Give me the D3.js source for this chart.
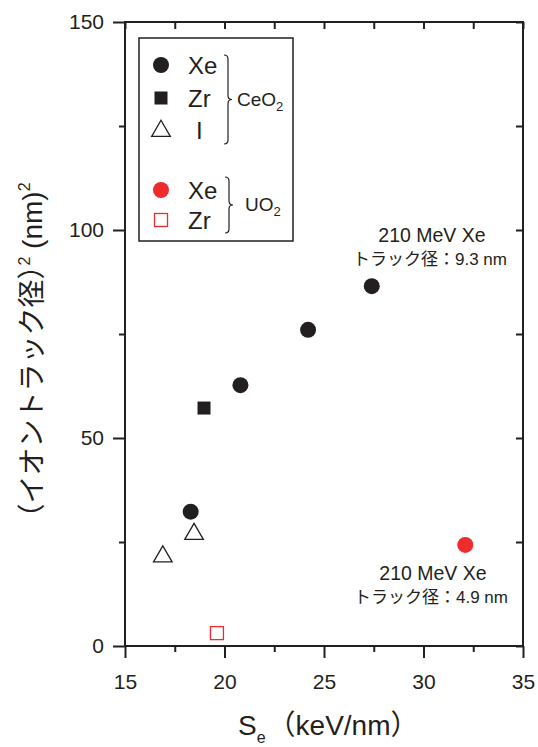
<!DOCTYPE html>
<html>
<head>
<meta charset="utf-8">
<script src="https://cdn.jsdelivr.net/npm/d3@7"></script>
<style>
  body { margin: 0; background: #fff; }
  svg text { font-family: "Liberation Sans", Arial, "Noto Sans CJK JP", sans-serif; fill: #231f20; }
  .jp { font-family: "Liberation Sans", "Noto Sans CJK JP", sans-serif; }
</style>
</head>
<body>
<svg id="chart" width="538" height="747"></svg>
<script>
// data
var ceXe = [[18.3, 32.3], [20.8, 62.7], [24.2, 76], [27.4, 86.5]];
var ceZr = [[18.97, 57.2]];
var ceI = [[16.9, 21.5], [18.47, 26.9]];
var uoXe = [[32.1, 24.3]];
var uoZr = [[19.62, 3.1]];
var xTicks = [15, 20, 25, 30, 35];
var yTicks = [0, 50, 100, 150];

var ink = '#231f20', red = '#ee2b2e';
var svg = d3.select('#chart');
var pl = 125, pr = 523, pt = 22, pb = 646;

var x = d3.scaleLinear().domain([15, 35]).range([pl, pr]);
var y = d3.scaleLinear().domain([0, 150]).range([pb, pt]);

// axes: outward ticks on bottom/left, inward on top/right
function minor(domain, step) { return d3.range(domain[0] + step / 2, domain[1], step); }
var g = svg.append('g');
g.append('g').attr('transform', 'translate(0,' + pb + ')')
  .call(d3.axisBottom(x).tickValues(minor([15, 35], 5)).tickSize(6).tickFormat(''));
g.append('g').attr('class', 'lab').attr('transform', 'translate(0,' + pb + ')')
  .call(d3.axisBottom(x).tickValues(xTicks).tickSize(12).tickPadding(16).tickFormat(d3.format('d')));
g.append('g').attr('transform', 'translate(' + pl + ',0)')
  .call(d3.axisLeft(y).tickValues(minor([0, 150], 50)).tickSize(6).tickFormat(''));
g.append('g').attr('class', 'lab').attr('transform', 'translate(' + pl + ',0)')
  .call(d3.axisLeft(y).tickValues(yTicks).tickSize(12).tickPadding(9).tickFormat(d3.format('d')));
g.append('g').attr('transform', 'translate(0,' + pt + ')')
  .call(d3.axisBottom(x).tickValues(xTicks.concat(minor([15, 35], 5))).tickSize(7).tickFormat(''));
g.append('g').attr('transform', 'translate(' + pr + ',0)')
  .call(d3.axisLeft(y).tickValues(yTicks.concat(minor([0, 150], 50))).tickSize(7).tickFormat(''));
g.selectAll('.domain').remove();
g.selectAll('line').attr('stroke', ink).attr('stroke-width', 2);
g.selectAll('text').style('font-size', '21px').attr('fill', ink).attr('font-family', null);

svg.append('rect')
  .attr('x', pl).attr('y', pt).attr('width', pr - pl).attr('height', pb - pt)
  .attr('fill', 'none').attr('stroke', ink).attr('stroke-width', 2);

// markers
function circles(data, fill) {
  svg.append('g').selectAll('circle').data(data).join('circle')
    .attr('cx', function(d) { return x(d[0]); })
    .attr('cy', function(d) { return y(d[1]); })
    .attr('r', 8).attr('fill', fill);
}
circles(ceXe, ink);
circles(uoXe, red);
svg.append('g').selectAll('rect').data(ceZr).join('rect')
  .attr('x', function(d) { return x(d[0]) - 6.5; })
  .attr('y', function(d) { return y(d[1]) - 6.5; })
  .attr('width', 13).attr('height', 13).attr('fill', ink);
svg.append('g').selectAll('rect').data(uoZr).join('rect')
  .attr('x', function(d) { return x(d[0]) - 6.5; })
  .attr('y', function(d) { return y(d[1]) - 6.5; })
  .attr('width', 13).attr('height', 13).attr('fill', 'none').attr('stroke', red).attr('stroke-width', 1.3);
var tri = d3.symbol().type(d3.symbolTriangle).size(150);
svg.append('g').selectAll('path').data(ceI).join('path')
  .attr('transform', function(d) { return 'translate(' + x(d[0]) + ',' + y(d[1]) + ')'; })
  .attr('d', tri).attr('fill', 'none').attr('stroke', ink).attr('stroke-width', 1.3);

// legend
var lg = svg.append('g');
lg.append('rect').attr('x', 139).attr('y', 38).attr('width', 154).attr('height', 203)
  .attr('fill', '#fff').attr('stroke', ink).attr('stroke-width', 1.5);
var rows = [
  { y: 65, label: 'Xe', kind: 'circle', color: ink },
  { y: 98, label: 'Zr', kind: 'square', color: ink },
  { y: 130, label: 'I', kind: 'triangle', color: ink },
  { y: 190, label: 'Xe', kind: 'circle', color: red },
  { y: 220, label: 'Zr', kind: 'opensquare', color: red }
];
rows.forEach(function(r) {
  if (r.kind === 'circle') lg.append('circle').attr('cx', 161).attr('cy', r.y).attr('r', 8).attr('fill', r.color);
  if (r.kind === 'square') lg.append('rect').attr('x', 154.5).attr('y', r.y - 6.5).attr('width', 13).attr('height', 13).attr('fill', r.color);
  if (r.kind === 'opensquare') lg.append('rect').attr('x', 154.5).attr('y', r.y - 6.5).attr('width', 13).attr('height', 13)
    .attr('fill', 'none').attr('stroke', r.color).attr('stroke-width', 1.3);
  if (r.kind === 'triangle') lg.append('path').attr('transform', 'translate(161,' + (r.y + 1) + ')').attr('d', tri)
    .attr('fill', 'none').attr('stroke', r.color).attr('stroke-width', 1.3);
  lg.append('text').attr('x', r.kind === 'triangle' ? 196 : 188).attr('y', r.y + 8.5)
    .style('font-size', '24px').text(r.label);
});

// braces
function brace(bx, y0, y1, w) {
  var m = (y0 + y1) / 2;
  return 'M' + bx + ',' + y0 + ' q' + w + ',0 ' + w + ',' + w +
    ' L' + (bx + w) + ',' + (m - w) + ' q0,' + w + ' ' + w + ',' + w +
    ' q-' + w + ',0 -' + w + ',' + w +
    ' L' + (bx + w) + ',' + (y1 - w) + ' q0,' + w + ' -' + w + ',' + w;
}
lg.append('path').attr('d', brace(224, 55, 144, 4)).attr('fill', 'none').attr('stroke', ink).attr('stroke-width', 1.2);
lg.append('path').attr('d', brace(225, 177, 233, 4)).attr('fill', 'none').attr('stroke', ink).attr('stroke-width', 1.2);
var ce = lg.append('text').attr('x', 237).attr('y', 106).style('font-size', '19px');
ce.append('tspan').text('CeO');
ce.append('tspan').attr('dy', 5).style('font-size', '13px').text('2');
var uo = lg.append('text').attr('x', 245).attr('y', 211).style('font-size', '19px');
uo.append('tspan').text('UO');
uo.append('tspan').attr('dy', 5).style('font-size', '13px').text('2');

// annotations
function note(cx, yb, line2) {
  svg.append('text').attr('x', cx).attr('y', yb).attr('text-anchor', 'middle').style('font-size', '19.5px').text('210 MeV Xe');
  svg.append('text').attr('class', 'jp').attr('x', cx - 2).attr('y', yb + 23).attr('text-anchor', 'middle').style('font-size', '17px').text(line2);
}
note(432, 242, 'トラック径：9.3 nm');
note(433, 580, 'トラック径：4.9 nm');

// axis titles
var xt = svg.append('text').attr('class', 'jp').attr('x', 238).attr('y', 735).style('font-size', '28px');
xt.append('tspan').text('S');
xt.append('tspan').attr('dy', 8).style('font-size', '16px').text('e');
xt.append('tspan').attr('dy', -8).attr('dx', 2).text('（keV/nm）');

var yt = svg.append('text').attr('class', 'jp')
  .attr('transform', 'translate(42,357) rotate(-90)')
  .attr('text-anchor', 'middle').style('font-size', '28px');
yt.append('tspan').text('（イオントラック径）');
yt.append('tspan').attr('dy', -12).attr('dx', -14).style('font-size', '16px').text('2');
yt.append('tspan').attr('dy', 12).text(' (nm)');
yt.append('tspan').attr('dy', -12).style('font-size', '16px').text('2');
</script>
</body>
</html>
